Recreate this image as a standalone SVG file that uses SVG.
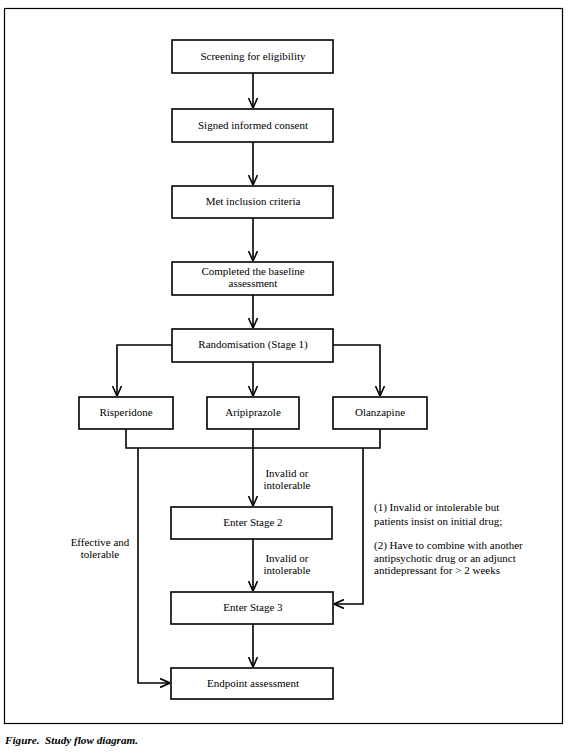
<svg xmlns="http://www.w3.org/2000/svg" width="568" height="753" viewBox="0 0 568 753">
<style>
.box{fill:#fff;stroke:#000;stroke-width:1.6}
.t{font-family:'Liberation Serif','DejaVu Serif',serif;font-size:11px;fill:#000}
.c{text-anchor:middle}
.ln{fill:none;stroke:#000;stroke-width:1.6}
.cap{font-family:'Liberation Serif','DejaVu Serif',serif;font-size:11.2px;font-weight:bold;font-style:italic;fill:#000}
</style>
<defs>
<marker id="ah" viewBox="0 0 10 10" refX="10" refY="5" markerWidth="10" markerHeight="10" markerUnits="userSpaceOnUse" orient="auto">
<path d="M0,0.5 L10,5 L0,9.5" fill="none" stroke="#000" stroke-width="1.6"/>
</marker>
</defs>
<rect x="0" y="0" width="568" height="753" fill="#fff"/>
<rect x="4.5" y="8.5" width="558" height="715" fill="none" stroke="#000" stroke-width="1.2"/>
<g id="connectors">
<path class="ln" d="M253,73 V108" marker-end="url(#ah)"/>
<path class="ln" d="M253,142 V185" marker-end="url(#ah)"/>
<path class="ln" d="M253,218 V261" marker-end="url(#ah)"/>
<path class="ln" d="M253,295 V328" marker-end="url(#ah)"/>
<path class="ln" d="M172,345 H117 V396" marker-end="url(#ah)"/>
<path class="ln" d="M253,362 V396" marker-end="url(#ah)"/>
<path class="ln" d="M333,345 H380 V396" marker-end="url(#ah)"/>
<path class="ln" d="M126,429 V448 H380 V429"/>
<path class="ln" d="M253,429 V506" marker-end="url(#ah)"/>
<path class="ln" d="M138,448 V683 H170" marker-end="url(#ah)"/>
<path class="ln" d="M363,448 V604 H334" marker-end="url(#ah)"/>
<path class="ln" d="M253,539 V591" marker-end="url(#ah)"/>
<path class="ln" d="M253,624 V667" marker-end="url(#ah)"/>
</g>
<g id="n1"><rect class="box" x="172" y="40" width="161" height="33"/><text class="t c" x="253" y="60">Screening for eligibility</text></g>
<g id="n2"><rect class="box" x="172" y="109" width="161" height="33"/><text class="t c" x="253" y="129">Signed informed consent</text></g>
<g id="n3"><rect class="box" x="172" y="186" width="161" height="32"/><text class="t c" x="253" y="205">Met inclusion criteria</text></g>
<g id="n4"><rect class="box" x="172" y="262" width="161" height="33"/><text class="t c" x="253" y="275">Completed the baseline</text><text class="t c" x="253" y="287">assessment</text></g>
<g id="n5"><rect class="box" x="172" y="329" width="161" height="33"/><text class="t c" x="253" y="348">Randomisation (Stage 1)</text></g>
<g id="n6"><rect class="box" x="79" y="397" width="94" height="32"/><text class="t c" x="126" y="416">Risperidone</text></g>
<g id="n7"><rect class="box" x="207" y="397" width="92" height="32"/><text class="t c" x="253" y="416">Aripiprazole</text></g>
<g id="n8"><rect class="box" x="333" y="397" width="94" height="32"/><text class="t c" x="380" y="416">Olanzapine</text></g>
<g id="n9"><rect class="box" x="171" y="507" width="161" height="32"/><text class="t c" x="253" y="526">Enter Stage 2</text></g>
<g id="n10"><rect class="box" x="171" y="592" width="162" height="32"/><text class="t c" x="253" y="611">Enter Stage 3</text></g>
<g id="n11"><rect class="box" x="171" y="668" width="162" height="31"/><text class="t c" x="253" y="687">Endpoint assessment</text></g>
<g id="labels">
<text class="t c" x="287" y="477">Invalid or</text>
<text class="t c" x="287" y="489">intolerable</text>
<text class="t c" x="287" y="562">Invalid or</text>
<text class="t c" x="287" y="574">intolerable</text>
<text class="t c" x="100" y="546">Effective and</text>
<text class="t c" x="100" y="558">tolerable</text>
<text class="t" x="374" y="511">(1) Invalid or intolerable but</text>
<text class="t" x="374" y="525">patients insist on initial drug;</text>
<text class="t" x="374" y="549">(2) Have to combine with another</text>
<text class="t" x="374" y="562">antipsychotic drug or an adjunct</text>
<text class="t" x="374" y="574">antidepressant for &gt; 2 weeks</text>
</g>
<text class="cap" x="5" y="744" xml:space="preserve">Figure.  Study flow diagram.</text>
</svg>
